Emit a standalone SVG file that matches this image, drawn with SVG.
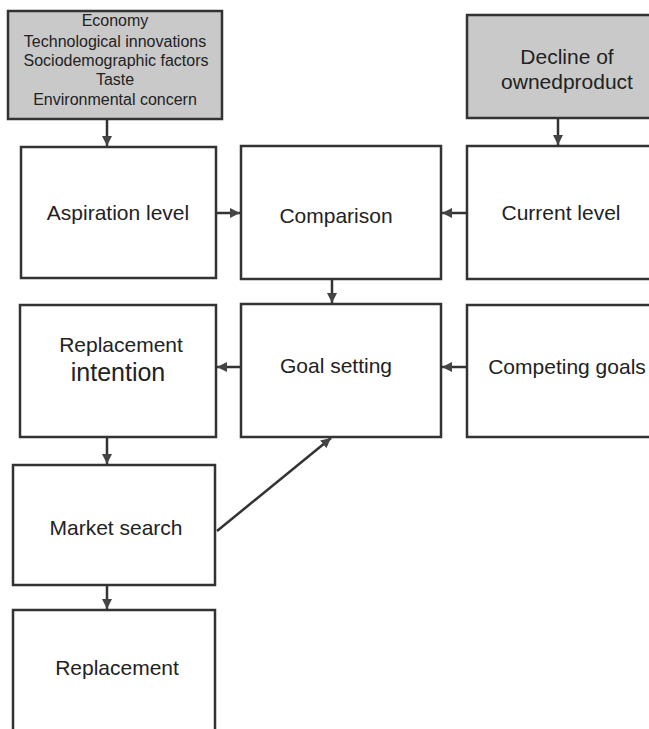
<svg xmlns="http://www.w3.org/2000/svg" width="649" height="729" viewBox="0 0 649 729">
<style>
  .box { fill: #ffffff; stroke: #333333; stroke-width: 2.5; }
  .gray { fill: #c9c9c9; stroke: #333333; stroke-width: 2.5; }
  .lbl { font-family: "Liberation Sans", Arial, sans-serif; font-size: 21px; fill: #222222; text-anchor: middle; }
  .small { font-family: "Liberation Sans", Arial, sans-serif; font-size: 16px; fill: #222222; text-anchor: middle; }
  .conn { stroke: #333333; stroke-width: 2.5; fill: none; marker-end: url(#ah); }
</style>
<defs>
  <marker id="ah" viewBox="0 0 10 10" refX="10" refY="5" markerWidth="4" markerHeight="4" orient="auto" markerUnits="strokeWidth">
    <path d="M0,0 L10,5 L0,10 z" fill="#444444"/>
  </marker>
</defs>
<rect width="649" height="729" fill="#ffffff"/>

<g id="n-external">
  <rect class="gray" x="8" y="11" width="214" height="108"/>
  <text class="small" x="115" y="26">Economy</text>
  <text class="small" x="115" y="47">Technological innovations</text>
  <text class="small" x="116" y="66">Sociodemographic factors</text>
  <text class="small" x="115" y="85">Taste</text>
  <text class="small" x="115" y="105">Environmental concern</text>
</g>
<g id="n-decline">
  <rect class="gray" x="467" y="15" width="200" height="103"/>
  <text class="lbl" x="567" y="64">Decline of</text>
  <text class="lbl" x="567" y="89">ownedproduct</text>
</g>
<g id="n-aspiration">
  <rect class="box" x="21" y="147" width="195" height="131"/>
  <text class="lbl" x="118" y="220">Aspiration level</text>
</g>
<g id="n-comparison">
  <rect class="box" x="241" y="146" width="200" height="133"/>
  <text class="lbl" x="336" y="223">Comparison</text>
</g>
<g id="n-current">
  <rect class="box" x="467" y="146" width="200" height="133"/>
  <text class="lbl" x="561" y="220">Current level</text>
</g>
<g id="n-intention">
  <rect class="box" x="20" y="305" width="196" height="132"/>
  <text class="lbl" x="121" y="352">Replacement</text>
  <text class="lbl" x="118" y="381" style="font-size:25px">intention</text>
</g>
<g id="n-goal">
  <rect class="box" x="241" y="304" width="200" height="133"/>
  <text class="lbl" x="336" y="373">Goal setting</text>
</g>
<g id="n-competing">
  <rect class="box" x="467" y="305" width="200" height="132"/>
  <text class="lbl" x="567" y="374">Competing goals</text>
</g>
<g id="n-market">
  <rect class="box" x="13" y="465" width="202" height="120"/>
  <text class="lbl" x="116" y="535">Market search</text>
</g>
<g id="n-replacement">
  <rect class="box" x="13" y="610" width="202" height="130"/>
  <text class="lbl" x="117" y="675">Replacement</text>
</g>

<g id="connectors">
  <line class="conn" x1="107" y1="119" x2="107" y2="146"/>
  <line class="conn" x1="558" y1="118" x2="558" y2="145"/>
  <line class="conn" x1="216" y1="213" x2="240" y2="213"/>
  <line class="conn" x1="467" y1="213" x2="442" y2="213"/>
  <line class="conn" x1="332" y1="279" x2="332" y2="303"/>
  <line class="conn" x1="241" y1="367" x2="217" y2="367"/>
  <line class="conn" x1="467" y1="367" x2="442" y2="367"/>
  <line class="conn" x1="107" y1="437" x2="107" y2="464"/>
  <line class="conn" x1="217" y1="531" x2="331" y2="438"/>
  <line class="conn" x1="107" y1="585" x2="107" y2="609"/>
</g>
</svg>
